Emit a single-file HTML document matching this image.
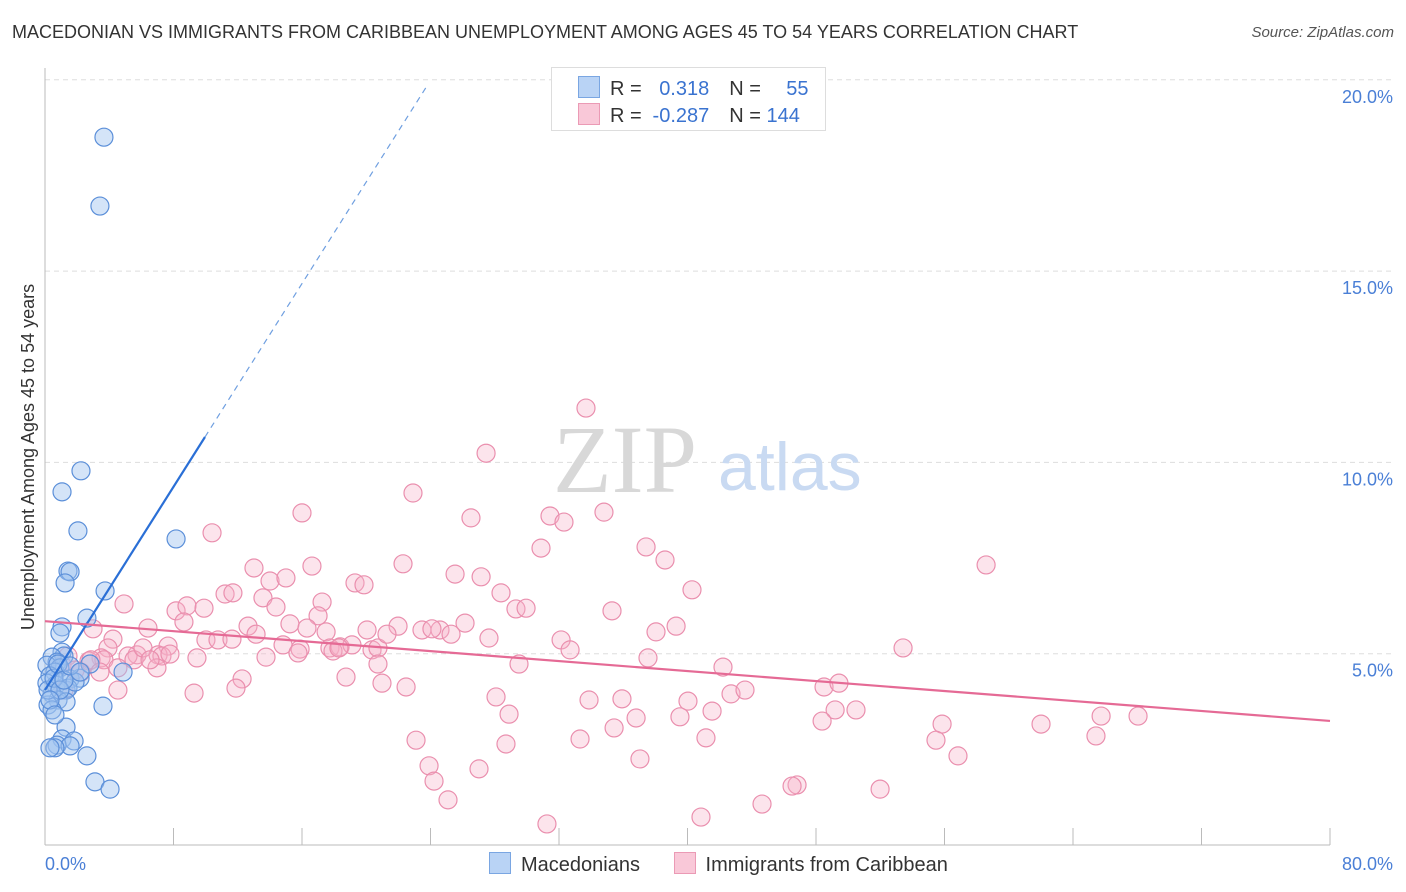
<!DOCTYPE html>
<html><head><meta charset="utf-8"><style>
body{margin:0;background:#fff;font-family:"Liberation Sans",sans-serif;}
#wrap{position:relative;width:1406px;height:892px;overflow:hidden}
.t{position:absolute;white-space:nowrap}
</style></head><body>
<div id="wrap">
<div class="t" style="left:12px;top:22px;font-size:18px;color:#333">MACEDONIAN VS IMMIGRANTS FROM CARIBBEAN UNEMPLOYMENT AMONG AGES 45 TO 54 YEARS CORRELATION CHART</div>
<div class="t" style="right:12px;top:24px;font-size:15px;color:#555;font-style:italic">Source: ZipAtlas.com</div>
<svg id="chart" width="1406" height="892" style="position:absolute;left:0;top:0"></svg>
</div>
<script>
const xTicks=[0,80];
const yTicks=[5,10,15,20];
const blueX=[3.67,3.42,2.24,1.06,2.05,8.16,1.43,1.56,1.25,3.74,2.61,1.06,0.93,1.06,1.18,0.44,0.75,0.12,0.93,0.62,0.31,1.56,2.18,2.80,4.86,0.12,0.68,1.31,1.43,0.44,0.81,0.19,1.31,0.44,3.61,1.31,1.06,1.81,0.75,1.56,0.62,2.61,3.11,4.05,0.31,0.19,0.56,0.81,1.87,0.93,1.18,0.31,1.56,2.18,0.62];
const blueY=[18.50,16.70,9.78,9.23,8.21,8.00,7.16,7.14,6.85,6.64,5.93,5.70,5.54,5.04,4.94,4.91,4.78,4.70,4.63,4.52,4.42,4.34,4.36,4.73,4.52,4.23,4.18,4.05,4.10,3.95,3.79,3.66,3.74,3.53,3.63,3.08,2.77,2.72,2.61,2.59,2.54,2.33,1.65,1.46,2.54,4.05,4.36,4.73,4.26,4.05,4.31,3.79,4.68,4.52,3.40];
const pinkX=[33.68,27.46,22.91,16.00,26.52,31.44,32.31,34.80,10.40,30.88,37.42,38.60,58.59,16.62,13.01,22.29,25.53,27.15,14.01,15.00,19.30,19.86,4.92,11.21,11.70,13.57,17.25,28.39,40.28,8.16,8.84,9.90,8.65,14.38,17.00,29.32,29.95,35.30,2.99,6.41,12.64,13.14,15.25,16.31,17.50,20.05,21.98,24.59,26.15,39.29,38.04,4.23,7.66,10.02,10.77,11.64,14.82,15.88,17.74,18.37,19.11,20.36,20.73,23.47,24.09,25.28,27.64,32.13,32.69,3.92,5.73,5.17,7.04,7.28,7.78,9.46,13.76,15.75,17.93,18.30,21.29,20.73,29.51,37.54,53.42,3.49,2.74,2.24,3.67,5.54,6.97,12.27,18.74,20.98,22.48,42.21,48.50,49.43,4.54,9.28,11.89,28.08,33.87,35.92,40.03,42.71,43.58,28.89,36.80,39.53,41.53,49.19,50.49,48.38,55.85,65.75,68.05,62.01,23.10,28.70,33.31,41.15,55.47,65.43,35.43,23.91,27.02,37.04,56.84,24.22,46.82,46.51,25.09,51.99,44.64,40.84,31.25,2.86,4.54,1.43,1.06,1.87,6.10,6.54,3.42,1.18];
const pinkY=[11.42,10.24,9.20,8.68,8.55,8.60,8.44,8.70,8.16,7.76,7.79,7.45,7.32,7.29,7.24,7.35,7.08,7.01,6.90,6.98,6.85,6.80,6.30,6.56,6.59,6.46,6.35,6.59,6.67,6.12,6.25,6.19,5.83,6.22,5.99,6.17,6.19,6.12,5.65,5.67,5.72,5.51,5.78,5.67,5.57,5.62,5.72,5.62,5.80,5.72,5.57,5.38,5.20,5.36,5.36,5.38,5.23,5.12,5.15,5.18,5.23,5.10,5.15,5.62,5.65,5.51,5.41,5.36,5.10,5.15,4.97,4.94,4.97,4.94,4.99,4.89,4.91,5.02,5.07,5.15,5.51,4.73,4.73,4.89,5.15,4.89,4.81,4.52,4.84,4.84,4.63,4.34,4.39,4.23,4.13,4.65,4.13,4.23,4.05,3.97,4.10,3.87,3.79,3.82,3.76,3.95,4.05,3.42,3.32,3.35,3.50,3.53,3.53,3.24,3.16,3.37,3.37,3.16,2.74,2.64,2.77,2.80,2.74,2.85,3.06,2.07,1.99,2.25,2.33,1.67,1.57,1.54,1.18,1.46,1.07,0.73,0.55,4.84,4.63,4.94,4.70,4.57,5.15,4.84,4.52,4.05];
const blueTrend=[4.05,0.664];   // intercept, slope
const pinkTrend=[5.85,-0.0326];
const X0=45,X1=1330,Y0=845,PXPER=38.26;
const sx=v=>X0+(v-xTicks[0])/(xTicks[1]-xTicks[0])*(X1-X0);
const sy=v=>Y0-v*PXPER;
const svg=document.getElementById('chart');
const NS='http://www.w3.org/2000/svg';
function mk(tag,attrs){const e=document.createElementNS(NS,tag);for(const k in attrs)e.setAttribute(k,attrs[k]);svg.appendChild(e);return e;}
// gridlines + y labels
yTicks.forEach(v=>{
 const g=mk('line',{x1:X0,x2:1395,y1:sy(v),y2:sy(v),stroke:'#dddddd','stroke-dasharray':'5,4'});
 
 
 const t=mk('text',{x:1393,y:sy(v)+23,'text-anchor':'end','font-size':18,fill:'#4a7fd6','font-family':'Liberation Sans, sans-serif'});
 t.textContent=v.toFixed(1)+'%';
 
 
});
// axes
const ax=mk('line',{x1:X0,x2:X0,y1:68,y2:Y0,stroke:'#bbb'});


const bx=mk('line',{x1:X0,x2:X1,y1:Y0,y2:Y0,stroke:'#bbb'});


for(let i=0;i<=10;i++){
 const x=X0+i*(X1-X0)/10;
 const tk=mk('line',{x1:x,x2:x,y1:828,y2:Y0,stroke:'#bbb'});
 
 
}
xTicks.forEach((v,i)=>{
 const t=mk('text',{x:i?1393:45,y:870,'text-anchor':i?'end':'start','font-size':18,fill:'#4a7fd6','font-family':'Liberation Sans, sans-serif'});
 t.textContent=v.toFixed(1)+'%';
 
 
});
// y title
const yt=mk('text',{x:34,y:457,'text-anchor':'middle','font-size':18,fill:'#333','font-family':'Liberation Sans, sans-serif',transform:'rotate(-90 34 457)'});
yt.textContent='Unemployment Among Ages 45 to 54 years';


// watermark
const w1=mk('text',{x:553,y:492,'font-size':96,fill:'#d8d8d8','font-family':'Liberation Serif, serif'});
w1.textContent='ZIP';


const w2=mk('text',{x:718,y:490,'font-size':68,fill:'#c9daf2','font-family':'Liberation Sans, sans-serif'});
w2.textContent='atlas';


// points
pinkX.forEach((v,i)=>{
 const c=mk('circle',{cx:sx(v),cy:sy(pinkY[i]),r:9,fill:'rgba(246,178,200,0.35)',stroke:'#ea8fae','stroke-width':1.2});
 
 
});
blueX.forEach((v,i)=>{
 const c=mk('circle',{cx:sx(v),cy:sy(blueY[i]),r:9,fill:'rgba(160,196,240,0.45)',stroke:'#5b8fd9','stroke-width':1.2});
 
 
});
// trends
const bxEnd=9.96, bxDash=23.85;
const l1=mk('line',{x1:sx(0),y1:sy(blueTrend[0]),x2:sx(bxEnd),y2:sy(blueTrend[0]+blueTrend[1]*bxEnd),stroke:'#2a6fd6','stroke-width':2.2});


const l2=mk('line',{x1:sx(bxEnd),y1:sy(blueTrend[0]+blueTrend[1]*bxEnd),x2:sx(bxDash),y2:sy(blueTrend[0]+blueTrend[1]*bxDash),stroke:'#6f9fe0','stroke-width':1.2,'stroke-dasharray':'6,5'});


const l3=mk('line',{x1:sx(0),y1:sy(pinkTrend[0]),x2:sx(80),y2:sy(pinkTrend[0]+pinkTrend[1]*80),stroke:'#e56a95','stroke-width':2.2});


</script>
<div class="t" style="left:551px;top:67px;width:273px;height:62px;border:1px solid #ddd;background:#fff;font-size:20px;color:#333">
 <div style="position:absolute;left:26px;top:8px"><span style="display:inline-block;width:20px;height:20px;background:#b9d3f5;border:1px solid #7aa6e2;vertical-align:-3px"></span><span style="margin-left:10px">R = </span><span style="color:#3a73d0;display:inline-block;width:62px;text-align:right">0.318</span><span style="margin-left:20px">N = </span><span style="color:#3a73d0;display:inline-block;width:42px;text-align:right">55</span></div>
 <div style="position:absolute;left:26px;top:35px"><span style="display:inline-block;width:20px;height:20px;background:#f9c8d8;border:1px solid #eb9ab5;vertical-align:-3px"></span><span style="margin-left:10px">R = </span><span style="color:#3a73d0;display:inline-block;width:62px;text-align:right">-0.287</span><span style="margin-left:20px">N = </span><span style="color:#3a73d0;display:inline-block;width:32px;text-align:right">144</span></div>
</div>
<div class="t" style="left:489px;top:852px;font-size:20px;color:#333">
 <span><span style="display:inline-block;width:20px;height:20px;background:#b9d3f5;border:1px solid #7aa6e2;vertical-align:-3px"></span><span style="margin-left:10px">Macedonians</span></span>
 <span style="margin-left:28px"><span style="display:inline-block;width:20px;height:20px;background:#f9c8d8;border:1px solid #eb9ab5;vertical-align:-3px"></span><span style="margin-left:10px">Immigrants from Caribbean</span></span>
</div>
</body></html>
